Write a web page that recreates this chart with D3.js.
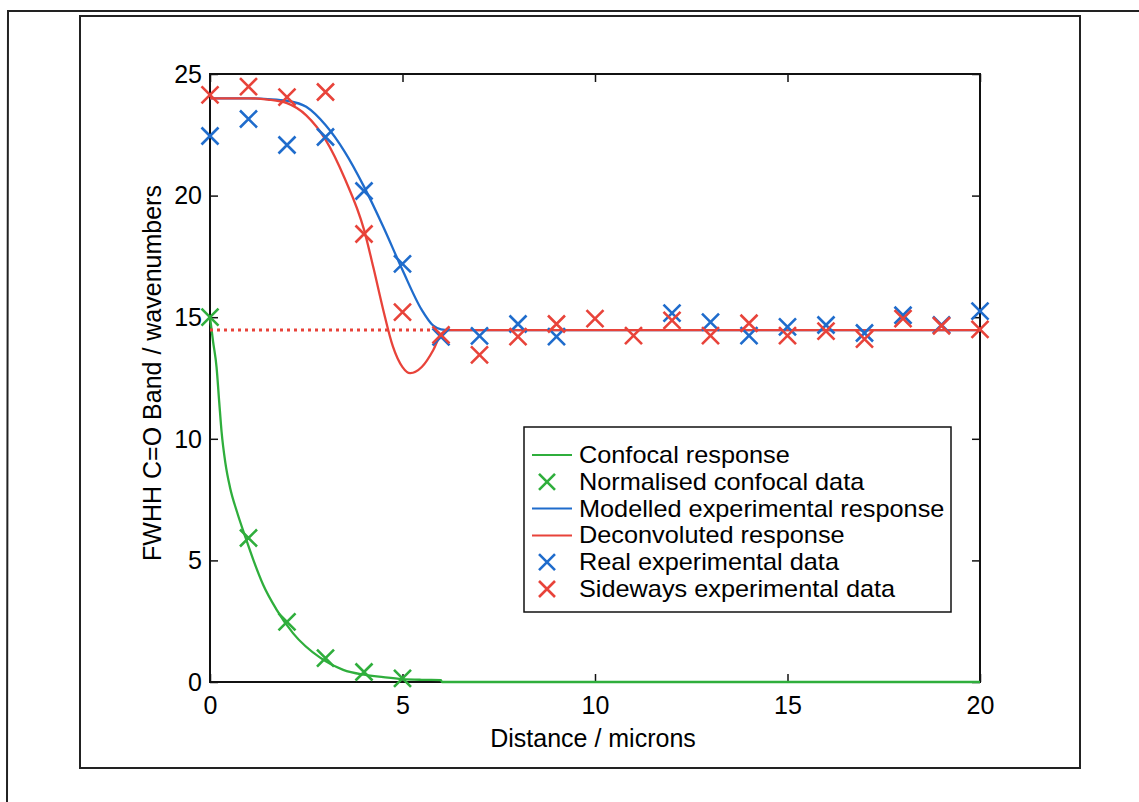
<!DOCTYPE html>
<html>
<head>
<meta charset="utf-8">
<script src="https://cdn.jsdelivr.net/npm/d3@7"></script>
<style>
  html, body { margin: 0; padding: 0; background: #ffffff; }
  svg { display: block; }
  text { font-family: "Liberation Sans", Arial, sans-serif; fill: #000; }
</style>
</head>
<body>
<svg id="chart" width="1139" height="802"></svg>
<script>
// ---------------- data ----------------
const xTicks = [0, 5, 10, 15, 20];
const yTicks = [0, 5, 10, 15, 20, 25];

// Confocal response curve
const confocalX = [0, 0.08, 0.17, 0.24, 0.3, 0.4, 0.52, 0.7, 0.91, 1.13, 1.38, 1.72, 2.16, 2.86, 3.46, 4, 4.5, 5, 5.5, 6, 6.02, 20];
const confocalY = [15, 14.0, 12.95, 11.5, 10.3, 9.0, 8.0, 7.0, 6.0, 5.0, 4.0, 3.0, 2.0, 1.0, 0.5, 0.3, 0.2, 0.12, 0.09, 0.08, 0, 0];

// Normalised confocal data
const confDataX = [0, 1, 2, 3, 4, 5];
const confDataY = [15.0, 5.92, 2.47, 0.98, 0.41, 0.15];

// Modelled experimental response
const modelX = [0, 1, 1.5, 2, 2.5, 3, 3.5, 4, 4.5, 5, 5.5, 5.8, 6, 6.2, 20];
const modelY = [24.0, 24.0, 23.97, 23.9, 23.65, 22.9, 21.8, 20.37, 18.72, 16.94, 15.3, 14.65, 14.5, 14.47, 14.47];

// Deconvoluted response
const deconvX = [0, 1, 1.5, 2, 2.5, 3, 3.5, 4, 4.25, 4.5, 4.75, 5, 5.2, 5.5, 5.8, 6, 6.2, 20];
const deconvY = [24.0, 24.0, 23.95, 23.8, 23.3, 22.3, 20.7, 18.6, 17.0, 15.3, 13.8, 12.95, 12.7, 12.95, 13.65, 14.3, 14.47, 14.47];

// Dotted reference level
const levelX = [0, 5.9];
const levelY = [14.47, 14.47];

// Real experimental data
const realX = [0, 1, 2, 3, 4, 5, 6, 7, 8, 9, 12, 13, 14, 15, 16, 17, 18, 19, 20];
const realY = [22.45, 23.15, 22.08, 22.41, 20.19, 17.19, 14.19, 14.23, 14.72, 14.2, 15.17, 14.8, 14.24, 14.6, 14.68, 14.35, 15.08, 14.68, 15.25];

// Sideways experimental data
const sideX = [0, 1, 2, 3, 4, 5, 6, 7, 8, 9, 10, 11, 12, 13, 14, 15, 16, 17, 18, 19, 20];
const sideY = [24.14, 24.48, 24.05, 24.26, 18.42, 15.21, 14.27, 13.45, 14.2, 14.72, 14.94, 14.24, 14.87, 14.24, 14.75, 14.24, 14.43, 14.1, 14.94, 14.65, 14.5];

const legendLabels = ["Confocal response", "Normalised confocal data", "Modelled experimental response",
                      "Deconvoluted response", "Real experimental data", "Sideways experimental data"];
const xLabel = "Distance / microns";
const yLabel = "FWHH C=O Band / wavenumbers";

// ---------------- styles ----------------
const GREEN = "#2fae3c";
const BLUE = "#1f6ccc";
const RED = "#e8433a";
const FONT = 25;
const LEGFONT = 23;

const svg = d3.select("#chart");

// outer frames
svg.append("path").attr("d", "M7,802 L8,11 L1139,11")
  .attr("fill", "none").attr("stroke", "#222").attr("stroke-width", 2);
svg.append("rect").attr("x", 80).attr("y", 16).attr("width", 1000).attr("height", 752)
  .attr("fill", "none").attr("stroke", "#222").attr("stroke-width", 2);

// plot area
const L = 210, R = 980, T = 74, B = 682;
const x = d3.scaleLinear().domain([0, 20]).range([L, R]);
const y = d3.scaleLinear().domain([0, 25]).range([B, T]);

const g = svg.append("g");

// axes (ticks inward)
const tickLen = 8;
const axB = g.append("g").attr("transform", `translate(0,${B})`)
  .call(d3.axisBottom(x).tickValues(xTicks).tickSizeInner(-tickLen).tickSizeOuter(0).tickPadding(14).tickFormat(d3.format("d")));
const axT = g.append("g").attr("transform", `translate(0,${T})`)
  .call(d3.axisTop(x).tickValues(xTicks).tickSizeInner(-tickLen).tickSizeOuter(0).tickFormat(""));
const axL = g.append("g").attr("transform", `translate(${L},0)`)
  .call(d3.axisLeft(y).tickValues(yTicks).tickSizeInner(-tickLen).tickSizeOuter(0).tickPadding(8).tickFormat(d3.format("d")));
const axR = g.append("g").attr("transform", `translate(${R},0)`)
  .call(d3.axisRight(y).tickValues(yTicks).tickSizeInner(-tickLen).tickSizeOuter(0).tickFormat(""));
[axB, axT, axL, axR].forEach(a => {
  a.select(".domain").remove();
  a.selectAll("line").attr("stroke", "#111").attr("stroke-width", 1.5);
  a.selectAll("text").style("font-size", FONT + "px").style("font-family", "Liberation Sans, Arial, sans-serif").attr("fill", "#000");
});
axB.selectAll("text").attr("dy", "0.71em");
axL.selectAll("text").attr("dy", "0.33em");

// box
g.append("rect").attr("x", L).attr("y", T).attr("width", R - L).attr("height", B - T)
  .attr("fill", "none").attr("stroke", "#111").attr("stroke-width", 2);

// axis labels
g.append("text").attr("x", (L + R) / 2 - 2).attr("y", 747).attr("text-anchor", "middle")
  .style("font-size", FONT + "px").text(xLabel);
g.append("text").attr("transform", `translate(161,${(T + B) / 2 - 5}) rotate(-90)`)
  .attr("text-anchor", "middle").style("font-size", FONT + "px").text(yLabel);

// lines
const line = d3.line().x(d => x(d[0])).y(d => y(d[1])).curve(d3.curveMonotoneX);
const zip = (a, b) => a.map((v, i) => [v, b[i]]);

const plot = g.append("g");
plot.append("path").datum(zip(confocalX, confocalY)).attr("d", line)
  .attr("fill", "none").attr("stroke", GREEN).attr("stroke-width", 2.3);
plot.append("path").datum(zip(modelX, modelY)).attr("d", line)
  .attr("fill", "none").attr("stroke", BLUE).attr("stroke-width", 2.3);
plot.append("path").datum(zip(deconvX, deconvY)).attr("d", line)
  .attr("fill", "none").attr("stroke", RED).attr("stroke-width", 2.3);
plot.append("path").datum(zip(levelX, levelY)).attr("d", d3.line().x(d => x(d[0])).y(d => y(d[1])))
  .attr("fill", "none").attr("stroke", RED).attr("stroke-width", 3).attr("stroke-dasharray", "3,4");

// X markers
const xMark = (s) => `M${-s},${-s}L${s},${s}M${-s},${s}L${s},${-s}`;
function markers(xs, ys, color) {
  plot.append("g").selectAll("path").data(zip(xs, ys)).join("path")
    .attr("transform", d => `translate(${x(d[0])},${y(d[1])})`)
    .attr("d", xMark(8.5))
    .attr("fill", "none").attr("stroke", color).attr("stroke-width", 2.6);
}
markers(confDataX, confDataY, GREEN);
markers(realX, realY, BLUE);
markers(sideX, sideY, RED);

// legend
const leg = g.append("g");
leg.append("rect").attr("x", 524).attr("y", 427).attr("width", 427).attr("height", 185)
  .attr("fill", "#fff").attr("stroke", "#111").attr("stroke-width", 1.5);
const legendTypes = ["line", "mark", "line", "line", "mark", "mark"];
const legendColors = [GREEN, GREEN, BLUE, RED, BLUE, RED];
const rowY0 = 455, rowDy = 26.8;
legendLabels.forEach((lab, i) => {
  const cy = rowY0 + i * rowDy;
  if (legendTypes[i] === "line") {
    leg.append("line").attr("x1", 532).attr("x2", 572).attr("y1", cy).attr("y2", cy)
      .attr("stroke", legendColors[i]).attr("stroke-width", 2);
  } else {
    leg.append("path").attr("transform", `translate(547,${cy})`).attr("d", xMark(8))
      .attr("fill", "none").attr("stroke", legendColors[i]).attr("stroke-width", 2.6);
  }
  leg.append("text").attr("transform", `translate(579,${cy}) scale(1.1,1)`).attr("dy", "0.35em")
    .style("font-size", LEGFONT + "px").text(lab);
});
</script>
</body>
</html>
